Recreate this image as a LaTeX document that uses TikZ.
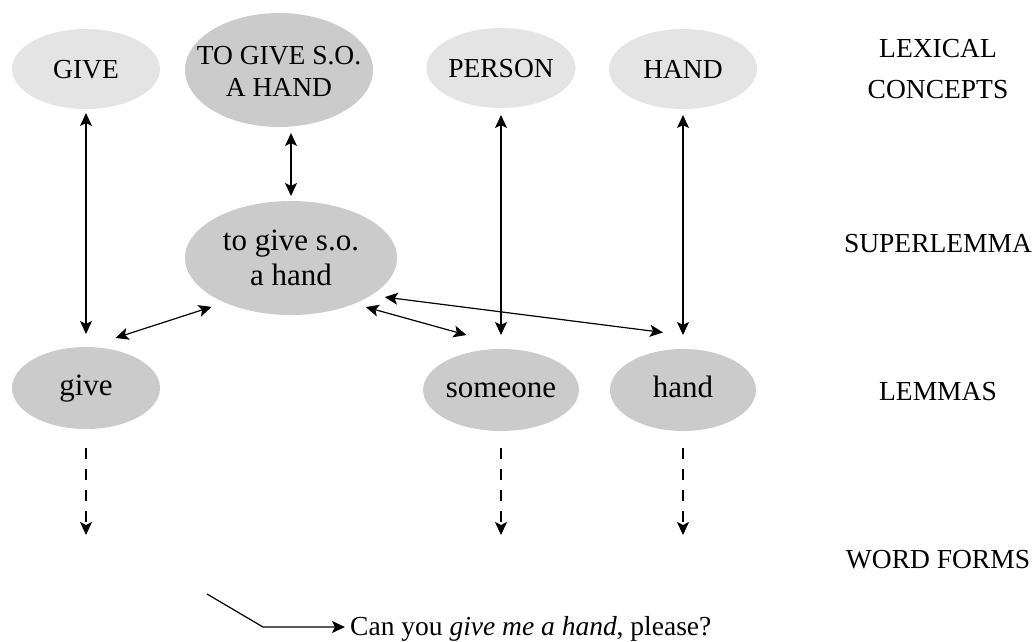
\documentclass[tikz,border=0pt]{standalone}
\usepackage{fontspec}
\setmainfont{Liberation Serif}
\usepackage{graphicx}
\usetikzlibrary{arrows.meta,shapes.geometric}

\definecolor{conceptgray}{RGB}{228,228,228}
\definecolor{lemmagray}{RGB}{203,203,203}

\newcommand\capsfnt{\fontsize{27.5}{32}\selectfont}
\newcommand\lowfnt{\fontsize{31}{35}\selectfont}
\newcommand\lblfnt{\fontsize{27.5}{41}\selectfont}
% two centred lines, lowered inside their node by #1; the narrow box
% keeps the ellipse at its given minimum size
\newcommand\twolines[3]{\raisebox{#1}[\height][\depth]{\makebox[100pt]{\begin{tabular}{@{}c@{}}#2\\#3\end{tabular}}}}

\begin{document}
\begin{tikzpicture}[x=1pt,y=-1pt,
  >={Stealth[length=13pt,width=12pt,inset=3pt]},
  blob/.style={ellipse, inner sep=0pt, outer sep=0pt},
  concept/.style={blob, fill=conceptgray, font=\capsfnt, text height=18.2pt, text depth=0pt},
  lemma/.style={blob, fill=lemmagray, font=\lowfnt, text height=18pt, text depth=3pt},
  level/.style={inner sep=0pt, font=\lblfnt, align=center},
  link/.style={<->, line width=1.2pt},
  formlink/.style={->, line width=1.2pt, dash pattern=on 11pt off 10pt},
  plain/.style={line width=1.2pt}
]
\useasboundingbox (0,0) rectangle (1036,641);

% lexical concepts
\node[concept, minimum width=148pt, minimum height=80pt] (GIVE) at (86,69) {GIVE};
\node[blob, fill=lemmagray, font=\capsfnt, minimum width=188pt, minimum height=114pt]
  (TOGIVE) at (279,70) {\twolines{-4pt}{TO GIVE S.O.}{A HAND}};
\node[concept, minimum width=149pt, minimum height=80pt] (PERSON) at (501,68) {PERSON};
\node[concept, minimum width=148pt, minimum height=80pt] (HAND) at (683,69) {HAND};

% superlemma
\node[blob, fill=lemmagray, font=\lowfnt, minimum width=212pt, minimum height=114pt]
  (super) at (291,258) {\twolines{-3pt}{to give s.o.}{a hand}};

% lemmas
\node[lemma, minimum width=148pt, minimum height=82pt] (give) at (86,388) {give};
\node[lemma, minimum width=148pt, minimum height=82pt] (someone) at (501,390) {someone};
\node[lemma, minimum width=146pt, minimum height=82pt] (hand) at (683,390) {hand};

% level names
\node[level] (lexlbl) at (938,69) {LEXICAL\\CONCEPTS};
\node[level, anchor=base] (superlbl) at (938,252) {SUPERLEMMA};
\node[level, anchor=base] (lemmalbl) at (938,400) {LEMMAS};
\node[level, anchor=base] (formlbl) at (938,568) {WORD FORMS};

% concept -- lemma links
\draw[link, shorten <=4pt, shorten >=13pt] (GIVE.south) -- (give.north);
\draw[link, shorten <=6pt, shorten >=5pt] (TOGIVE.south -| super.north) -- (super.north);
\draw[link, shorten <=7pt, shorten >=14pt] (PERSON.south) -- (someone.north);
\draw[link, shorten <=6pt, shorten >=14pt] (HAND.south) -- (hand.north);

% superlemma -- lemma links
\coordinate (hand-in) at ([yshift=14pt]hand.north);
\draw[link, shorten <=29.5pt, shorten >=14pt] (give.88.7) -- (super.214.2);
\draw[link, shorten <=12.2pt, shorten >=58.5pt] (super.324.15) -- (someone.61.5);
\draw[link, shorten <=13.8pt, shorten >=20.2pt] (super.335.1) -- (hand-in);

% lemma -- word form links
\coordinate (wf-give) at (86,535);
\coordinate (wf-someone) at (501,535);
\coordinate (wf-hand) at (683,535);
\draw[formlink, shorten <=19pt] (give.south) -- (wf-give);
\draw[formlink, shorten <=17pt] (someone.south) -- (wf-someone);
\draw[formlink, shorten <=17pt] (hand.south) -- (wf-hand);

% utterance
\node[anchor=base west, inner sep=0pt, font=\capsfnt] (utter) at (350,635)
  {Can you \textit{give me a hand}, please?};
\coordinate (src) at (207,594);
\coordinate (bend) at (263,627);
\draw[plain, ->, shorten >=5pt] (src) -- (bend) -- (bend -| utter.west);
\end{tikzpicture}
\end{document}
